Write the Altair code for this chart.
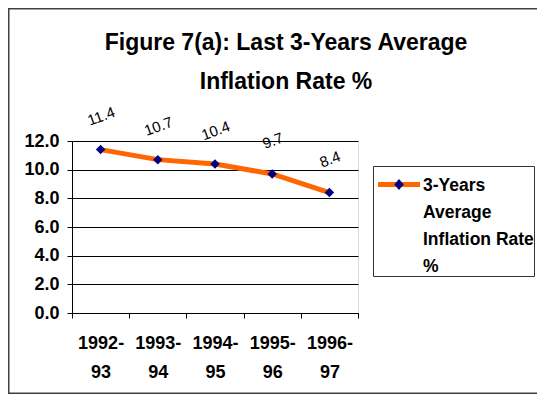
import altair as alt
import pandas as pd

# ---- data ----
periods = ["1992-93", "1993-94", "1994-95", "1995-96", "1996-97"]
inflation = [11.4, 10.7, 10.4, 9.7, 8.4]
series_name = "3-Years Average Inflation Rate %"
legend_lines = ["3-Years", "Average", "Inflation Rate", "%"]
title_lines = ["Figure 7(a): Last 3-Years Average", "Inflation Rate %"]
y_ticks = [0, 2, 4, 6, 8, 10, 12]

df = pd.DataFrame({"period": periods, "value": inflation, "series": [series_name] * len(periods)})

FONT = "Liberation Sans, Arial, Helvetica, sans-serif"
legend_label_expr = "[" + ",".join("'" + s + "'" for s in legend_lines) + "]"

x_enc = alt.X(
    "period:N",
    sort=periods,
    scale=alt.Scale(type="band", paddingInner=0, paddingOuter=0),
    axis=alt.Axis(
        title=None, labelAngle=0, tickBand="extent",
        labelExpr="[slice(datum.label, 0, 5), slice(datum.label, 5)]",
        labelFont=FONT, labelFontSize=18, labelFontWeight="bold", labelColor="black",
        labelPadding=16, labelLineHeight=29, labelBaseline="top",
        domainColor="black", tickColor="black", tickSize=5, grid=False,
    ),
)
y_enc = alt.Y(
    "value:Q",
    scale=alt.Scale(domain=[0, 12], nice=False, zero=True),
    axis=alt.Axis(
        title=None, values=y_ticks, format=".1f",
        labelFont=FONT, labelFontSize=18, labelFontWeight="bold", labelColor="black",
        labelPadding=8, tickSize=5, tickColor="black", domainColor="black",
        grid=True, gridColor="black", gridWidth=1,
    ),
)

common_legend = dict(
    title=None, orient="none", legendX=301, legendY=25,
    labelFont=FONT, labelFontSize=17.5,
    labelFontWeight="bold", labelBaseline="top", labelLimit=300,
    symbolOffset=15, labelOffset=13, padding=0,
)

base = alt.Chart(df).encode(x=x_enc, y=y_enc)

line = base.mark_line(strokeWidth=5).encode(
    color=alt.Color(
        "series:N",
        scale=alt.Scale(range=["#FF6600"]),
        legend=alt.Legend(
            symbolType="M-2.47,0.88H2.47", symbolSize=289, symbolStrokeWidth=5,
            strokeColor="#333333", labelColor="black", labelExpr=legend_label_expr,
            **common_legend,
        ),
    )
)

points = base.transform_calculate(marker="datum.series").mark_point(
    shape="diamond", filled=True, size=90, opacity=1
).encode(
    fill=alt.Fill(
        "marker:N",
        scale=alt.Scale(range=["#000080"]),
        legend=alt.Legend(
            symbolType="M-0.43,0.68L0,0.18L0.43,0.68L0,1.18Z", symbolSize=484,
            symbolStrokeWidth=0, symbolStrokeColor="transparent",
            labelExpr="''", zindex=2, **common_legend,
        ),
    )
)

labels = base.mark_text(
    font=FONT, fontSize=15, angle=340, dx=12, dy=-31, color="black"
).encode(text=alt.Text("value:Q", format=".1f"))

frame = alt.Chart(alt.Data(values=[{}])).mark_rect(
    filled=False, stroke="#404040", strokeWidth=1.5
).encode(
    x=alt.value(-63.25), x2=alt.value(600), y=alt.value(-132.25), y2=alt.value(252.25)
)

chart = (
    alt.layer(frame, line, points, labels)
    .properties(
        width=286, height=172,
        autosize=alt.AutoSizeParams(type="none"),
        padding={"left": 64, "top": 133, "right": 179, "bottom": 81},
        title=alt.TitleParams(
            text=title_lines, font=FONT, fontSize=23, fontWeight="bold", color="black",
            anchor="middle", dx=71, dy=104, baseline="alphabetic", lineHeight=39, offset=0,
        ),
        background="white",
    )
    .configure_view(strokeWidth=0)
    .configure(style={"guide-label": {"lineHeight": 27}})
)

chart.save("out.html", embed_options={"renderer": "svg", "actions": False})
